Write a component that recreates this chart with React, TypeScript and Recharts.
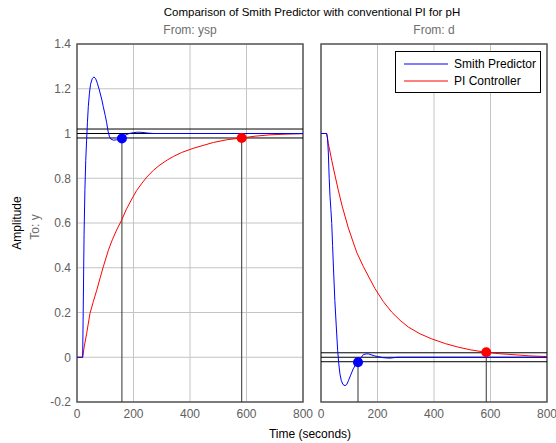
import React from "react";
import {
  LineChart,
  Line,
  XAxis,
  YAxis,
  CartesianGrid,
  ReferenceLine,
  ReferenceDot,
  ReferenceArea,
  Legend,
} from "recharts";

const FONT = "'Liberation Sans', Arial, Helvetica, sans-serif";
const BLUE = "#0000ff";
const RED = "#ff0000";

const timeTicks = [0, 200, 400, 600, 800];
const ampTicks = [-0.2, 0, 0.2, 0.4, 0.6, 0.8, 1, 1.2, 1.4];

// From: ysp  (setpoint step)
const smithYspT = [0, 20, 22, 25, 28, 31, 34, 37, 40, 44, 48, 54, 60, 66, 72, 80, 88, 93, 100, 105, 110, 115, 120, 130, 140, 150, 159, 170, 185, 200, 215, 230, 250, 270, 300, 400, 500, 600, 700, 800];
const smithYspY = [0, 0, 0.2, 0.55, 0.75, 0.88, 0.97, 1.05, 1.12, 1.18, 1.22, 1.245, 1.253, 1.245, 1.225, 1.19, 1.15, 1.12, 1.08, 1.048, 1.01, 0.985, 0.975, 0.97, 0.972, 0.975, 0.978, 0.992, 1.0, 1.004, 1.006, 1.005, 1.002, 1.0, 1.0, 1.0, 1.0, 1.0, 1.0, 1.0];
const piYspT = [0, 20, 26, 34, 46, 58, 70, 82, 93, 111, 125, 140, 158, 175, 194, 211, 230, 247, 270, 294, 320, 341, 370, 412, 450, 483, 530, 583, 630, 683, 740, 800];
const piYspY = [0, 0, 0.05, 0.105, 0.196, 0.25, 0.3, 0.355, 0.404, 0.478, 0.525, 0.568, 0.613, 0.662, 0.707, 0.745, 0.778, 0.805, 0.835, 0.86, 0.882, 0.897, 0.915, 0.934, 0.948, 0.96, 0.972, 0.98, 0.988, 0.994, 0.997, 0.999];

// From: d  (disturbance step)
const smithDT = [0, 20, 23, 26, 29, 32, 35, 38, 41, 44, 49, 54, 59, 63, 67, 72, 78, 85, 91, 97, 105, 114, 122, 131, 140, 150, 160, 168, 180, 190, 203, 220, 244, 270, 300, 400, 500, 600, 700, 800];
const smithDY = [1, 1, 0.98, 0.913, 0.8, 0.717, 0.66, 0.598, 0.5, 0.403, 0.254, 0.14, 0.03, -0.03, -0.074, -0.105, -0.122, -0.127, -0.122, -0.105, -0.08, -0.052, -0.035, -0.022, -0.005, 0.012, 0.015, 0.015, 0.01, 0.006, 0.003, -0.002, -0.004, 0, 0, 0, 0, 0, 0, 0];
const piDT = [0, 20, 26, 38, 50, 61, 75, 97, 126, 150, 175, 191, 220, 250, 280, 309, 350, 392, 440, 486, 530, 585, 630, 687, 740, 800];
const piDY = [1, 1, 0.955, 0.88, 0.81, 0.748, 0.675, 0.577, 0.47, 0.405, 0.345, 0.307, 0.25, 0.202, 0.165, 0.135, 0.105, 0.082, 0.061, 0.045, 0.033, 0.022, 0.016, 0.011, 0.006, 0.003];

// settling-time markers [time, amplitude]
const settleYsp = { smith: [159, 0.978], pi: [583, 0.98] };
const settleD = { smith: [131, -0.022], pi: [585, 0.022] };
const bandYsp = [0.98, 1, 1.02];
const bandD = [-0.02, 0, 0.02];

const toPoints = (ts: number[], ys: number[]) =>
  ts.map((t, i) => ({ t, y: ys[i] }));

const tickStyle = { fill: "#606060", fontSize: 12, fontFamily: FONT };

const LegendBox = ({ payload }: any) => (
  <div
    style={{
      border: "1px solid #000",
      background: "#fff",
      padding: "3px 4px 3px 8px",
      fontFamily: FONT,
      fontSize: 12,
      color: "#000",
      width: 146,
      boxSizing: "border-box",
      whiteSpace: "nowrap",
    }}
  >
    {(payload || []).map((p: any) => (
      <div
        key={p.value}
        style={{ display: "flex", alignItems: "center", height: 17 }}
      >
        <svg width={46} height={10} style={{ marginRight: 4, flexShrink: 0 }}>
          <line x1={0} y1={5} x2={44} y2={5} stroke={p.color} strokeWidth={1} />
        </svg>
        <span>{p.value}</span>
      </div>
    ))}
  </div>
);

type PanelProps = {
  width: number;
  margin: { top: number; right: number; bottom: number; left: number };
  showY: boolean;
  smith: { t: number; y: number }[];
  pi: { t: number; y: number }[];
  settle: { smith: number[]; pi: number[] };
  band: number[];
  legend?: boolean;
};

function Panel({ width, margin, showY, smith, pi, settle, band, legend }: PanelProps) {
  return (
    <LineChart width={width} height={443} margin={margin}>
      <CartesianGrid stroke="#c4c4c4" strokeWidth={1} />
      <XAxis
        type="number"
        dataKey="t"
        domain={[0, 800]}
        ticks={timeTicks}
        allowDataOverflow
        axisLine={false}
        tickLine={false}
        tickSize={0}
        tickMargin={7}
        height={30}
        tick={tickStyle}
        interval={0}
      />
      <YAxis
        type="number"
        domain={[-0.2, 1.4]}
        ticks={ampTicks}
        allowDataOverflow
        axisLine={false}
        tickLine={false}
        tickSize={0}
        tickMargin={6}
        width={showY ? 77 : 0}
        tick={showY ? tickStyle : false}
        interval={0}
      />
      {band.map((b) => (
        <ReferenceLine key={b} y={b} stroke="#000" strokeWidth={1} />
      ))}
      <ReferenceLine
        segment={[{ x: settle.smith[0], y: -0.2 }, { x: settle.smith[0], y: settle.smith[1] }]}
        stroke="#333"
      />
      <ReferenceLine
        segment={[{ x: settle.pi[0], y: -0.2 }, { x: settle.pi[0], y: settle.pi[1] }]}
        stroke="#333"
      />
      <ReferenceArea
        x1={0}
        x2={800}
        y1={-0.2}
        y2={1.4}
        fill="none"
        stroke="#5a5a5a"
        strokeWidth={1.5}
      />
      <Line
        data={pi}
        dataKey="y"
        name="PI Controller"
        stroke={RED}
        strokeWidth={1}
        dot={false}
        isAnimationActive={false}
        legendType="line"
      />
      <Line
        data={smith}
        dataKey="y"
        name="Smith Predictor"
        stroke={BLUE}
        strokeWidth={1}
        dot={false}
        isAnimationActive={false}
        legendType="line"
      />
      <ReferenceDot x={settle.smith[0]} y={settle.smith[1]} r={5} fill={BLUE} stroke="none" />
      <ReferenceDot x={settle.pi[0]} y={settle.pi[1]} r={5} fill={RED} stroke="none" />
      {legend && (
        <Legend
          layout="vertical"
          align="center"
          verticalAlign="middle"
          content={(props: any) => (
            <LegendBox payload={[...(props.payload || [])].reverse()} />
          )}
          wrapperStyle={{ top: 51, left: 81, width: 146, height: 42 }}
        />
      )}
    </LineChart>
  );
}

export default function App() {
  return (
    <div
      style={{
        position: "absolute",
        left: 0,
        top: 0,
        width: 556,
        height: 443,
        background: "#fff",
        fontFamily: FONT,
      }}
    >
      <div style={{ position: "absolute", left: 0, top: 0 }}>
        <Panel
          width={317}
          margin={{ top: 44, right: 14, bottom: 11, left: 0 }}
          showY
          smith={toPoints(smithYspT, smithYspY)}
          pi={toPoints(piYspT, piYspY)}
          settle={settleYsp}
          band={bandYsp}
        />
      </div>
      <div style={{ position: "absolute", left: 314, top: 0 }}>
        <Panel
          width={242}
          margin={{ top: 44, right: 9, bottom: 11, left: 7 }}
          showY={false}
          smith={toPoints(smithDT, smithDY)}
          pi={toPoints(piDT, piDY)}
          settle={settleD}
          band={bandD}
          legend
        />
      </div>
      <svg
        width={556}
        height={443}
        style={{ position: "absolute", left: 0, top: 0, pointerEvents: "none" }}
        fontFamily={FONT}
      >
        <text x={312} y={12} textAnchor="middle" dominantBaseline="central" fontSize={11.5} fill="#000">
          Comparison of Smith Predictor with conventional PI for pH
        </text>
        <text x={190} y={30} textAnchor="middle" dominantBaseline="central" fontSize={12} fill="#6e6e6e">
          From: ysp
        </text>
        <text x={434} y={30} textAnchor="middle" dominantBaseline="central" fontSize={12} fill="#6e6e6e">
          From: d
        </text>
        <text x={310} y={434} textAnchor="middle" dominantBaseline="central" fontSize={12} fill="#000">
          Time (seconds)
        </text>
        <text
          transform="translate(17,223) rotate(-90)"
          textAnchor="middle"
          dominantBaseline="central"
          fontSize={12}
          fill="#000"
        >
          Amplitude
        </text>
        <text
          transform="translate(35,227) rotate(-90)"
          textAnchor="middle"
          dominantBaseline="central"
          fontSize={12}
          fill="#6e6e6e"
        >
          To: y
        </text>
      </svg>
    </div>
  );
}
